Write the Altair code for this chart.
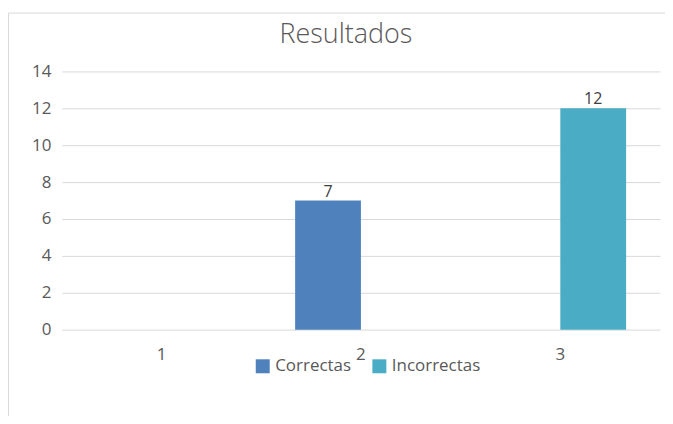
import altair as alt
import pandas as pd

title_text = "Resultados"
categories = ["1", "2", "3"]
series_names = ["Correctas", "Incorrectas"]
correctas = [None, 7, None]
incorrectas = [None, None, 12]
colors = ["#4F81BD", "#4BACC6"]
y_ticks = [0, 2, 4, 6, 8, 10, 12, 14]

rows = []
for c, a, b in zip(categories, correctas, incorrectas):
    if a is not None:
        rows.append({"cat": c, "serie": "Correctas", "valor": a})
    if b is not None:
        rows.append({"cat": c, "serie": "Incorrectas", "valor": b})
df = pd.DataFrame(rows)

FONT = "Open Sans"
GREY = "#595959"

x_enc = alt.X("cat:N", sort=categories,
              scale=alt.Scale(domain=categories, paddingInner=0.34, paddingOuter=0.17),
              axis=alt.Axis(title=None, labelAngle=0, domain=False, ticks=False, grid=False,
                            labelFont=FONT, labelFontSize=17, labelColor=GREY, labelPadding=17))
xoff_enc = alt.XOffset("serie:N", scale=alt.Scale(domain=series_names, paddingInner=0, paddingOuter=0))
y_enc = alt.Y("valor:Q", scale=alt.Scale(domain=[0, 14], nice=False),
              axis=alt.Axis(title=None, values=y_ticks, domain=False, ticks=False,
                            grid=True, gridColor="#d9d9d9", gridWidth=1,
                            labelFont=FONT, labelFontSize=17, labelColor=GREY, labelPadding=11))

base = alt.Chart(df)

bars = base.mark_bar().encode(
    x=x_enc, xOffset=xoff_enc, y=y_enc,
    color=alt.Color("serie:N", scale=alt.Scale(domain=series_names, range=colors),
                    legend=alt.Legend(title=None, orient="none", direction="horizontal",
                                      legendX=193, legendY=287, symbolType="square",
                                      symbolSize=196, symbolStrokeWidth=0, labelFont=FONT,
                                      labelFontSize=17, labelColor=GREY, labelOffset=4,
                                      columnPadding=19, padding=0)),
)

labels = base.mark_text(baseline="alphabetic", dy=-4, font=FONT, fontSize=16, color="#404040").encode(
    x=x_enc, xOffset=xoff_enc, y=y_enc, text=alt.Text("valor:Q")
)

single = alt.Chart(pd.DataFrame({"t": [title_text]}))

frame = single.mark_rect(fill=None, stroke="#d9d9d9", strokeWidth=1).encode(
    x=alt.value(-53.5), x2=alt.value(700), y=alt.value(-58.5), y2=alt.value(500))

title = single.mark_text(font=FONT, fontSize=27, fontWeight=300, color=GREY, align="center",
                         baseline="alphabetic").encode(
    x=alt.value(285), y=alt.value(-29), text=alt.Text("t:N"))

chart = alt.layer(frame, title, bars, labels).properties(
    width=600, height=259,
    autosize=alt.AutoSizeParams(type="none"),
    padding={"left": 54, "top": 63, "right": 5, "bottom": 86},
).configure(background="white").configure_view(strokeWidth=0, stroke=None)

chart.save("out.html", embed_options={"renderer": "svg", "actions": False})
